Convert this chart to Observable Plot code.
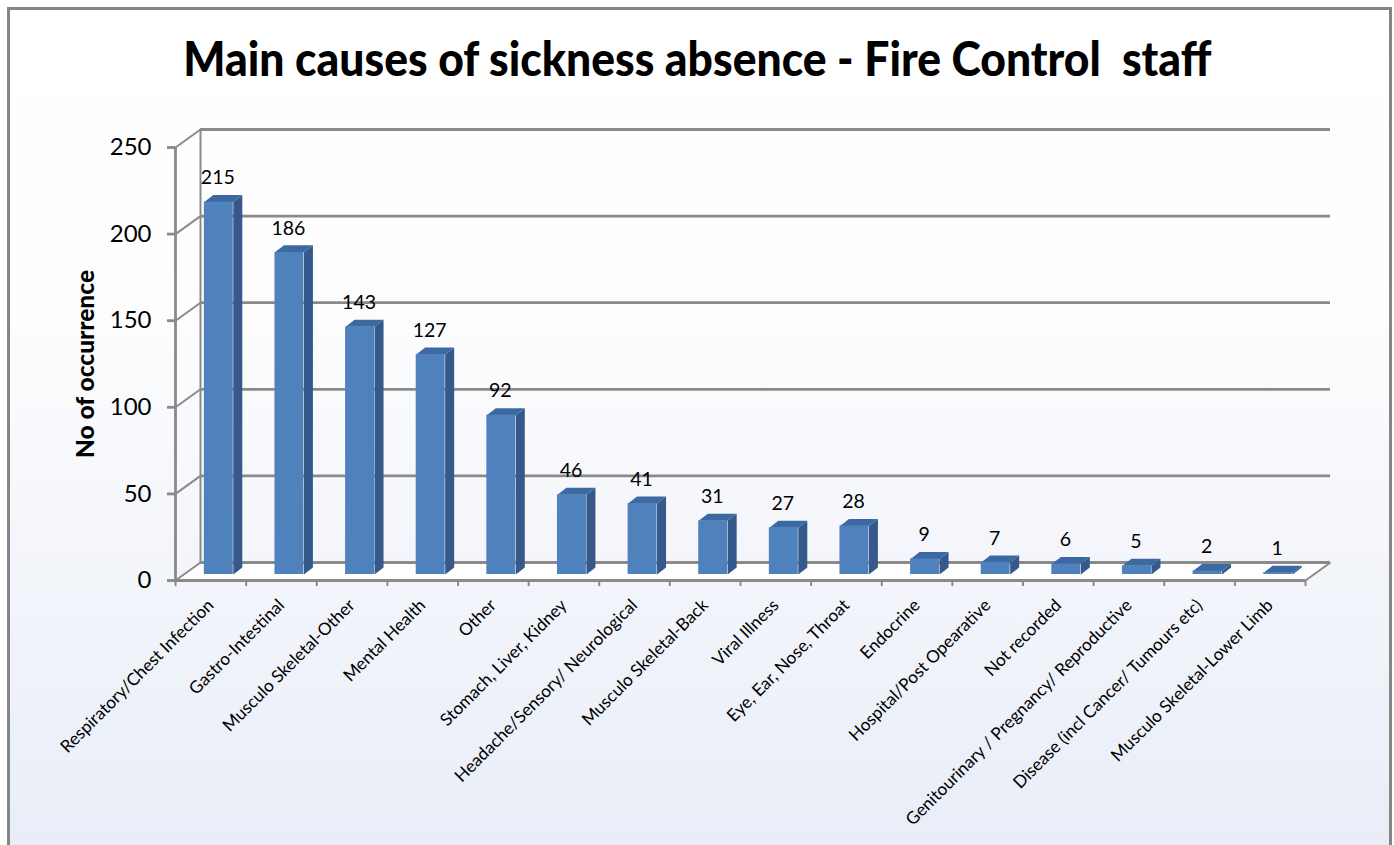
<!DOCTYPE html>
<html>
<head>
<meta charset="utf-8">
<script src="https://cdn.jsdelivr.net/npm/d3@7"></script>
<script src="https://cdn.jsdelivr.net/npm/@observablehq/plot@0.6"></script>
<style>
  html, body { margin: 0; padding: 0; background: #ffffff; width: 1394px; height: 845px; overflow: hidden; }
  #frame {
    position: absolute; left: 7px; top: 7px; width: 1379px; height: 900px;
    border: 3px solid #858585; border-bottom: none;
    background: linear-gradient(to bottom, #ffffff 0px, #fdfdfe 300px, #e8edf7 838px);
  }
  #title {
    position: absolute; left: 0; top: 34px; width: 1394px; text-align: center;
    font-family: Lato, "Open Sans", sans-serif; font-weight: 900; font-size: 48px;
    color: #000; white-space: pre; line-height: 1;
  }
  #title span { display: inline-block; transform-origin: center; }
  #chart { position: absolute; left: 0; top: 0; }
</style>
</head>
<body>
<div id="frame"></div>
<div id="title"><span id="tspan">Main causes of sickness absence - Fire Control  staff</span></div>
<div id="chart"></div>
<script>
const categories = [
  "Respiratory/Chest Infection",
  "Gastro-Intestinal",
  "Musculo Skeletal-Other",
  "Mental Health",
  "Other",
  "Stomach, Liver, Kidney",
  "Headache/Sensory/ Neurological",
  "Musculo Skeletal-Back",
  "Viral Illness",
  "Eye, Ear, Nose, Throat",
  "Endocrine",
  "Hospital/Post Opearative",
  "Not recorded",
  "Genitourinary / Pregnancy/ Reproductive",
  "Disease (incl Cancer/ Tumours etc)",
  "Musculo Skeletal-Lower Limb"
];
const values = [215, 186, 143, 127, 92, 46, 41, 31, 27, 28, 9, 7, 6, 5, 2, 1];
const yTicks = [0, 50, 100, 150, 200, 250];
const yLabel = "No of occurrence";

// layout (pixels)
const W = 1394, H = 845;
const pLeft = 175, pRight = 1305, pBottom = 580, pTop = 147;
const n = categories.length;
const yMax = 250;
const pxX = (pRight - pLeft) / n, pxY = (pBottom - pTop) / yMax;
// 3D depth of the walls and bars, expressed in data units
const wdx = 25 / pxX, wdy = 18 / pxY;
const bdx = 9 / pxX, bdy = 7 / pxY;
const half = 0.205;
const barDx = 8, barDy = -6;

const bars = values.map((v, i) => ({i, v, c: categories[i], xl: i + 0.5 - half, xr: i + 0.5 + half}));
const sides = bars.flatMap(b => [
  {i: b.i, x: b.xr, y: 0}, {i: b.i, x: b.xr + bdx, y: bdy},
  {i: b.i, x: b.xr + bdx, y: b.v + bdy}, {i: b.i, x: b.xr, y: b.v}
]);
const tops = bars.flatMap(b => [
  {i: b.i, x: b.xl, y: b.v}, {i: b.i, x: b.xr, y: b.v},
  {i: b.i, x: b.xr + bdx, y: b.v + bdy}, {i: b.i, x: b.xl + bdx, y: b.v + bdy}
]);
const floor = [
  {x: 0, y: 0}, {x: n, y: 0}, {x: n + wdx, y: wdy}, {x: wdx, y: wdy}
];
const gridColor = "#8a8a8a";

const chart = Plot.plot({
  width: W, height: H,
  marginLeft: pLeft, marginRight: W - pRight, marginTop: pTop, marginBottom: H - pBottom,
  style: {background: "transparent", fontFamily: "Lato, 'Open Sans', sans-serif", color: "#000", overflow: "visible"},
  x: {type: "linear", domain: [0, n], axis: null},
  y: {domain: [0, yMax], axis: null},
  marks: [
    Plot.line(floor, {x: "x", y: "y", fill: "#ffffff", stroke: "none"}),
    Plot.ruleY(yTicks, {y: d => d + wdy, x1: wdx, x2: n + wdx, stroke: gridColor, strokeWidth: 2.8}),
    Plot.ruleX([wdx], {y1: wdy, y2: yMax + wdy, stroke: gridColor, strokeWidth: 2}),
    Plot.link(yTicks, {x1: 0, y1: d => d, x2: wdx, y2: d => d + wdy, stroke: gridColor, strokeWidth: 2}),
    Plot.link([n], {x1: d => d, y1: 0, x2: d => d + wdx, y2: wdy, stroke: gridColor, strokeWidth: 2}),
    Plot.ruleX([0], {y1: 0, y2: yMax, stroke: gridColor, strokeWidth: 2.8}),
    Plot.ruleY([0], {x1: 0, x2: n, stroke: gridColor, strokeWidth: 2.8}),
    // y ticks
    Plot.axisY({ticks: yTicks, tickSize: 8, tickPadding: 16, stroke: gridColor, strokeWidth: 2.8,
      fontSize: 24, label: null, tickFormat: d => String(d)}),
    // x boundary ticks
    Plot.axisX({ticks: d3.range(n + 1), tickSize: 6, tickFormat: () => "", stroke: gridColor, strokeWidth: 2, label: null}),
    // x category labels
    Plot.axisX({ticks: d3.range(n).map(i => i + 0.5), tickSize: 0, tickPadding: 22, tickRotate: -45,
      tickFormat: d => categories[Math.floor(d)], fontSize: 17.2, label: null}),
    // bars: side, top, front
    Plot.line(sides, {x: "x", y: "y", z: "i", fill: "#34598a", stroke: "none", dx: barDx, dy: barDy}),
    Plot.line(tops, {x: "x", y: "y", z: "i", fill: "#3c69a2", stroke: "none", dx: barDx, dy: barDy}),
    Plot.rect(bars, {x1: "xl", x2: "xr", y1: 0, y2: "v", fill: "#4f81bd", dx: barDx, dy: barDy}),
    // value labels
    Plot.text(bars, {x: b => b.i + 0.5, y: "v", text: b => String(b.v), dx: barDx - 1, dy: barDy - 24,
      fontSize: 19.5, fill: "#000", lineAnchor: "middle"}),
    // y axis title
    Plot.text([yLabel], {frameAnchor: "left", dx: -89, rotate: -90, textAnchor: "middle", lineAnchor: "middle",
      fontSize: 24.5, fontWeight: 900, fill: "#000"})
  ]
});
document.getElementById("chart").appendChild(chart);

// fit title width to the reference's proportions
const ts = document.getElementById("tspan");
const w = ts.getBoundingClientRect().width;
ts.style.transform = `scaleX(${1028 / w})`;
</script>
</body>
</html>
